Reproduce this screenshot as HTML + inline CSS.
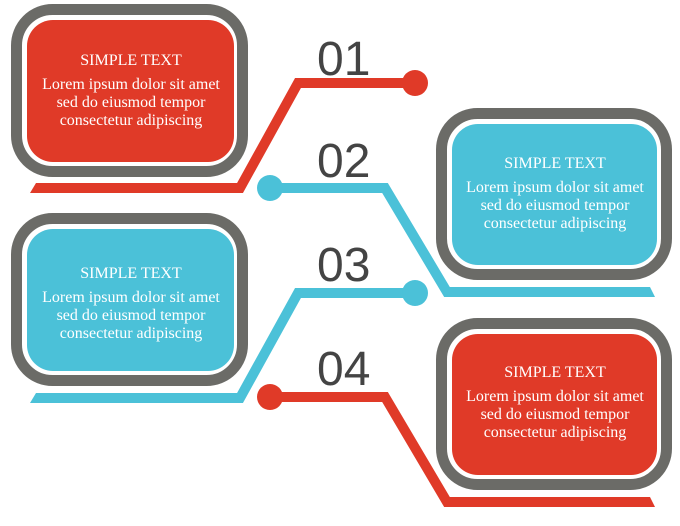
<!DOCTYPE html>
<html><head><style>
body{margin:0;width:680px;height:521px;background:#fff;overflow:hidden}
</style></head><body>
<svg width="680" height="521" xmlns="http://www.w3.org/2000/svg">
<g fill="none" stroke-width="10" stroke-linejoin="miter">
<polyline points="30,188 240,188 298,83 415,83" stroke="#e03a28"/>
<polyline points="270,188 385,188 447,292 655,292" stroke="#4bc1d8"/>
<polyline points="30,398 240,398 298,293 415,293" stroke="#4bc1d8"/>
<polyline points="270,397 385,397 447,502 655,502" stroke="#e03a28"/>
</g>
<polygon points="25,183 36,183 30,193 25,193" fill="#fff"/>
<polygon points="25,393 36,393 30,403 25,403" fill="#fff"/>
<polygon points="650,287 660,287 660,297 655,297" fill="#fff"/>
<polygon points="650,497 660,497 660,507 655,507" fill="#fff"/>
<circle cx="415" cy="83" r="13" fill="#e03a28"/>
<circle cx="270" cy="188" r="13" fill="#4bc1d8"/>
<circle cx="415" cy="293" r="13" fill="#4bc1d8"/>
<circle cx="270" cy="397" r="13" fill="#e03a28"/>
<g fill="#fff" stroke="#6b6b67" stroke-width="11">
<rect x="16.5" y="9.5" width="226" height="162" rx="36"/>
<rect x="441.5" y="113.5" width="225" height="161" rx="36"/>
<rect x="16.5" y="218.5" width="226" height="162" rx="36"/>
<rect x="441.5" y="323.5" width="225" height="161" rx="36"/>
</g>
<rect x="27" y="20" width="207" height="142" rx="26" fill="#e03a28"/>
<rect x="452" y="124" width="205" height="141" rx="26" fill="#4bc1d8"/>
<rect x="27" y="229" width="207" height="142" rx="26" fill="#4bc1d8"/>
<rect x="452" y="334" width="205" height="141" rx="26" fill="#e03a28"/>
<g font-family="Liberation Sans, sans-serif" font-size="48" fill="#444">
<text x="317" y="75">01</text>
<text x="317" y="177">02</text>
<text x="317" y="281">03</text>
<text x="317" y="385">04</text>
</g>
<g font-family="Liberation Serif, serif" fill="#fff" text-anchor="middle">
<g transform="translate(131,0)">
<text y="65" font-size="16">SIMPLE TEXT</text>
<text y="89" font-size="16">Lorem ipsum dolor sit amet</text>
<text y="107" font-size="16">sed do eiusmod tempor</text>
<text y="125" font-size="16">consectetur adipiscing</text>
</g>
<g transform="translate(555,103)">
<text y="65" font-size="16">SIMPLE TEXT</text>
<text y="89" font-size="16">Lorem ipsum dolor sit amet</text>
<text y="107" font-size="16">sed do eiusmod tempor</text>
<text y="125" font-size="16">consectetur adipiscing</text>
</g>
<g transform="translate(131,213)">
<text y="65" font-size="16">SIMPLE TEXT</text>
<text y="89" font-size="16">Lorem ipsum dolor sit amet</text>
<text y="107" font-size="16">sed do eiusmod tempor</text>
<text y="125" font-size="16">consectetur adipiscing</text>
</g>
<g transform="translate(555,312)">
<text y="65" font-size="16">SIMPLE TEXT</text>
<text y="89" font-size="16">Lorem ipsum dolor sit amet</text>
<text y="107" font-size="16">sed do eiusmod tempor</text>
<text y="125" font-size="16">consectetur adipiscing</text>
</g>
</g>
</svg>
</body></html>
